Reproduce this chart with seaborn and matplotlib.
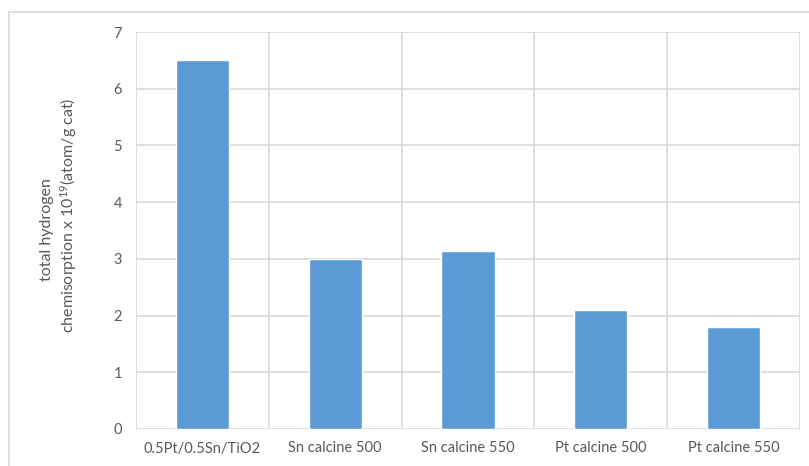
import matplotlib
matplotlib.use("Agg")
import matplotlib.pyplot as plt
from matplotlib.lines import Line2D
import seaborn as sns
import pandas as pd

# Catalyst samples and their total hydrogen chemisorption (x 10^19 atom/g cat)
samples = ["0.5Pt/0.5Sn/TiO2", "Sn calcine 500", "Sn calcine 550",
           "Pt calcine 500", "Pt calcine 550"]
uptake = [6.5, 2.99, 3.13, 2.1, 1.8]
y_ticks = [0, 1, 2, 3, 4, 5, 6, 7]

sns.set_theme(style="white")
plt.rcParams["font.family"] = ["Lato", "DejaVu Sans"]
plt.rcParams["mathtext.fontset"] = "custom"
plt.rcParams["mathtext.rm"] = "Lato"
plt.rcParams["mathtext.it"] = "Lato:italic"

text_col = "#595959"
grid_col = "#d9d9d9"
bar_col = "#5B9BD5"

W, H = 809, 466
fig = plt.figure(figsize=(W / 100, H / 100), dpi=100)
ax = fig.add_axes([136 / W, 1 - 429 / H, (800 - 136) / W, (429 - 32) / H])

df = pd.DataFrame({"sample": samples, "uptake": uptake})
sns.barplot(data=df, x="sample", y="uptake", color=bar_col, width=0.4,
            saturation=1, ax=ax, zorder=3)

ax.set_ylim(0, 7)
ax.set_xlim(-0.5, len(samples) - 0.5)
ax.set_yticks(y_ticks)
ax.set_yticklabels([str(t) for t in y_ticks])

# Horizontal gridlines at each unit and vertical separators between categories
for t in y_ticks:
    ax.axhline(t, color=grid_col, lw=1.2, zorder=1)
for b in range(len(samples) + 1):
    ax.axvline(b - 0.5, color=grid_col, lw=1.2, zorder=1)

for s in ax.spines.values():
    s.set_visible(False)

ax.tick_params(axis="both", length=0, labelsize=10.5, labelcolor=text_col)
ax.tick_params(axis="y", pad=10)
ax.tick_params(axis="x", pad=9)
ax.set_xlabel("")
ax.set_ylabel("")

# Two-line rotated axis title
fig.text(47 / W, 1 - 230 / H, "total hydrogen", rotation=90, ha="center",
         va="center", color=text_col, fontsize=11.5)
fig.text(69 / W, 1 - 215 / H, r"chemisorption x 10$^{19}$(atom/g cat)",
         rotation=90, ha="center", va="center", color=text_col, fontsize=11.5)

# Chart-area frame
fig.add_artist(Line2D([9 / W, 1.0], [1 - 12 / H, 1 - 12 / H],
                      transform=fig.transFigure, color=grid_col, lw=1.2))
fig.add_artist(Line2D([9 / W, 9 / W], [0, 1 - 12 / H],
                      transform=fig.transFigure, color=grid_col, lw=1.2))

fig.savefig("out.png", dpi=100, facecolor="white")
